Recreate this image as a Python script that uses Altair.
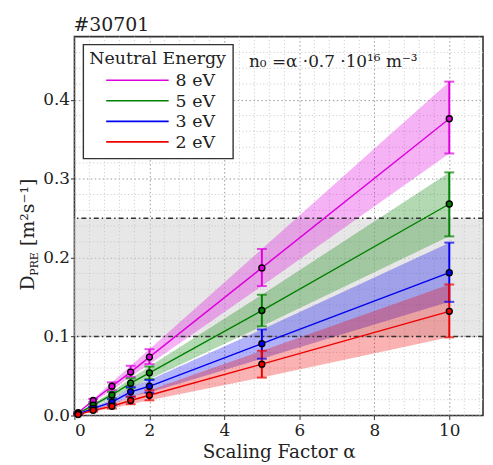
import altair as alt
import pandas as pd

# ---- data ----
alphas = [0.1, 0.5, 1.0, 1.5, 2.0, 5.0, 10.0]
energies = ["8 eV", "5 eV", "3 eV", "2 eV"]

d_8 = [0.0037, 0.019, 0.037, 0.055, 0.074, 0.187, 0.376]
lo_8 = [0.0033, 0.017, 0.032, 0.049, 0.065, 0.164, 0.332]
hi_8 = [0.0043, 0.021, 0.042, 0.063, 0.084, 0.211, 0.423]

d_5 = [0.0027, 0.013, 0.026, 0.041, 0.054, 0.133, 0.268]
lo_5 = [0.0023, 0.011, 0.022, 0.035, 0.046, 0.113, 0.227]
hi_5 = [0.0031, 0.015, 0.030, 0.047, 0.062, 0.153, 0.308]

d_3 = [0.0018, 0.009, 0.017, 0.030, 0.037, 0.091, 0.181]
lo_3 = [0.0014, 0.007, 0.0135, 0.024, 0.029, 0.072, 0.144]
hi_3 = [0.0022, 0.011, 0.0205, 0.036, 0.045, 0.109, 0.219]

d_2 = [0.0013, 0.0065, 0.0117, 0.019, 0.0256, 0.065, 0.132]
lo_2 = [0.0010, 0.0049, 0.0088, 0.0143, 0.0192, 0.048, 0.099]
hi_2 = [0.0016, 0.0081, 0.0146, 0.0238, 0.0320, 0.082, 0.166]

band_lo = [0.1]
band_hi = [0.25]
ref_lines = [0.1, 0.25]

x_ticks = [0, 2, 4, 6, 8, 10]
y_ticks = [0.0, 0.1, 0.2, 0.3, 0.4]
x_minor = [0.4, 0.8, 1.2, 1.6, 2.4, 2.8, 3.2, 3.6, 4.4, 4.8, 5.2, 5.6,
           6.4, 6.8, 7.2, 7.6, 8.4, 8.8, 9.2, 9.6, 10.4, 10.8]
y_minor = [0.02, 0.04, 0.06, 0.08, 0.12, 0.14, 0.16, 0.18, 0.22, 0.24,
           0.26, 0.28, 0.32, 0.34, 0.36, 0.38, 0.42, 0.44, 0.46]

colors = ["#dd00dd", "#008000", "#0000ee", "#ee0000"]

title_text = "#30701"
annot_text = "n\u2080 =\u03b1 \u00b70.7 \u00b710\u00b9\u2076  m\u207b\u00b3"
x_title = "Scaling Factor \u03b1"
legend_title = "Neutral Energy"

# ---- build table ----
rows = []
for e, d, lo, hi in [("8 eV", d_8, lo_8, hi_8), ("5 eV", d_5, lo_5, hi_5),
                     ("3 eV", d_3, lo_3, hi_3), ("2 eV", d_2, lo_2, hi_2)]:
    for a, v, l, h in zip(alphas, d, lo, hi):
        rows.append({"alpha": a, "energy": e, "D": v, "lo": l, "hi": h})
df = pd.DataFrame(rows)

W, H = 412, 382
FONT = "DejaVu Serif"
TXT = "#222222"

xs = alt.Scale(domain=[0, 10.9], nice=False, zero=False)
ys = alt.Scale(domain=[0, 0.48], nice=False)

X = alt.X("alpha:Q", scale=xs,
          axis=alt.Axis(values=x_ticks, title=x_title, format="d"))
Y = alt.Y("D:Q", scale=ys,
          axis=alt.Axis(values=y_ticks, title=None, format=".1f"))

cscale = alt.Scale(domain=energies, range=colors)
C = alt.Color("energy:N", scale=cscale, legend=None)

base = alt.Chart(df)

band = alt.Chart(pd.DataFrame({"y": band_lo, "y2": band_hi})).mark_rect(
    color="#d4d4d4", opacity=0.55
).encode(x=alt.value(0), x2=alt.value(W), y=alt.Y("y:Q", scale=ys), y2="y2:Q")

xminor = alt.Chart(pd.DataFrame({"x": x_minor})).mark_rule(
    color="#c8c8c8", strokeDash=[1, 2.5], strokeWidth=1
).encode(x=alt.X("x:Q", scale=xs))
yminor = alt.Chart(pd.DataFrame({"y": y_minor})).mark_rule(
    color="#c8c8c8", strokeDash=[1, 2.5], strokeWidth=1
).encode(y=alt.Y("y:Q", scale=ys))

refs = alt.Chart(pd.DataFrame({"y": ref_lines})).mark_rule(
    color="#333333", strokeDash=[5, 3, 1.5, 3], strokeWidth=1.6
).encode(y=alt.Y("y:Q", scale=ys))

areas = base.mark_area(opacity=0.3).encode(
    x=X, y=alt.Y("lo:Q", scale=ys), y2="hi:Q", color=C)

lines = base.mark_line(strokeWidth=1.4).encode(x=X, y=Y, color=C)

ebars = base.mark_rule(strokeWidth=2).encode(
    x=X, y=alt.Y("lo:Q", scale=ys), y2="hi:Q", color=C)
caps_lo = base.mark_tick(orient="horizontal", size=10, thickness=2).encode(
    x=X, y=alt.Y("lo:Q", scale=ys), color=C)
caps_hi = base.mark_tick(orient="horizontal", size=10, thickness=2).encode(
    x=X, y=alt.Y("hi:Q", scale=ys), color=C)

pts = base.mark_circle(size=36, stroke="black", strokeWidth=1.4, opacity=1).encode(
    x=X, y=Y, color=C)

def label(text, x, y, size, align="left", angle=0):
    kw = dict(font=FONT, fontSize=size, align=align, baseline="alphabetic",
              color=TXT)
    if angle:
        kw["angle"] = angle
    return alt.Chart(pd.DataFrame({"t": [text]})).mark_text(**kw).encode(
        x=alt.value(x), y=alt.value(y), text="t:N")

annot = label(annot_text, 176, 31, 17)
title = label(title_text, -1, -6, 19)

yt_d = label("D", -41, 256, 19, angle=270)
yt_sub = label("PRE", -37, 241, 11, angle=270)
yt_rest = label("[m\u00b2s\u207b\u00b9]", -41, 211, 19, angle=270)

# ---- legend box (matplotlib style) ----
leg_box = alt.Chart(pd.DataFrame({"t": [0]})).mark_rect(
    fill="white", stroke="#333333", strokeWidth=1.4
).encode(x=alt.value(9), x2=alt.value(160), y=alt.value(8), y2=alt.value(123))
leg_title = label(legend_title, 15, 28, 17.5)
leg_layers = [leg_box, leg_title]
for i, (e, c) in enumerate(zip(energies, colors)):
    yy = 44 + i * 20.7
    leg_layers.append(
        alt.Chart(pd.DataFrame({"t": [e]})).mark_rule(color=c, strokeWidth=1.6)
        .encode(x=alt.value(32), x2=alt.value(95), y=alt.value(yy))
    )
    leg_layers.append(label(e, 102, yy + 6, 17.5))

chart = alt.layer(
    band, xminor, yminor, areas, refs, lines, ebars, caps_lo, caps_hi, pts,
    annot, title, yt_d, yt_sub, yt_rest, *leg_layers,
).properties(
    width=W, height=H,
    padding={"left": 67, "top": 27, "right": 2, "bottom": 46},
    autosize=alt.AutoSizeParams(type="none"),
).configure_view(
    stroke="#333333", strokeWidth=1.6
).configure_axis(
    domain=False, labelFont=FONT, labelFontSize=17, labelColor=TXT,
    titleFont=FONT, titleFontSize=18.5, titleFontWeight="normal",
    titleColor=TXT, tickColor="#333333", tickSize=4,
    gridColor="#999999", gridDash=[1.5, 2.5], gridWidth=1,
).configure_axisX(
    labelPadding=3, titlePadding=4,
).configure_axisY(
    labelPadding=1,
)

chart.save("out.html", embed_options={"renderer": "svg", "actions": False})
